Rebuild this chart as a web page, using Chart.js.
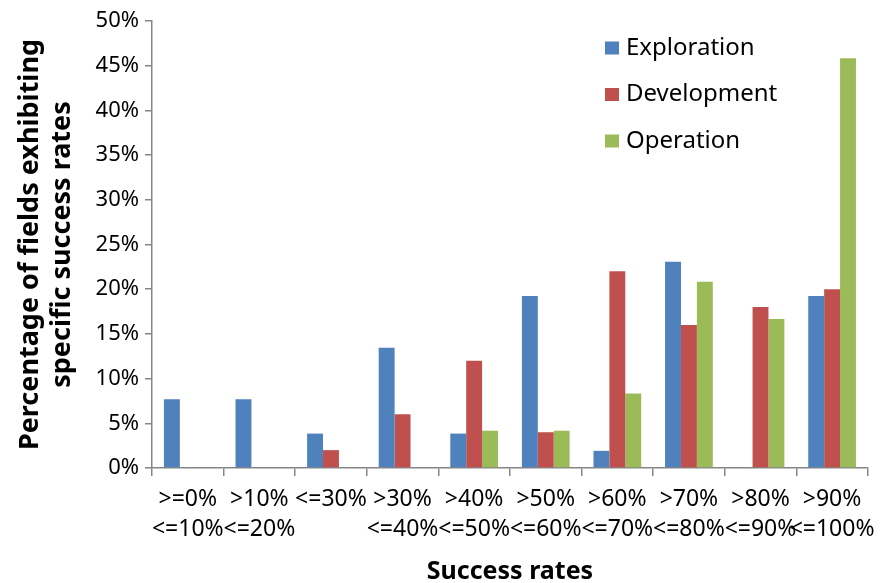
<!DOCTYPE html>
<html>
<head>
<meta charset="utf-8">
<script src="https://cdn.jsdelivr.net/npm/chart.js@4"></script>
<style>
  html, body { margin: 0; padding: 0; background: #fff; }
  #wrap { width: 884px; height: 583px; }
</style>
</head>
<body>
<div id="wrap"><canvas id="c" width="884" height="583"></canvas></div>
<script>
// Success-rate bands (two-line labels)
const categories = [
  ['>=0%', '<=10%'],
  ['>10%', '<=20%'],
  ['<=30%', ''],
  ['>30%', '<=40%'],
  ['>40%', '<=50%'],
  ['>50%', '<=60%'],
  ['>60%', '<=70%'],
  ['>70%', '<=80%'],
  ['>80%', '<=90%'],
  ['>90%', '<=100%']
];

// Percentage of fields in each band, per phase
const exploration = [7.69, 7.69, 3.85, 13.46, 3.85, 19.23, 1.92, 23.08, 0, 19.23];
const development = [0, 0, 2, 6, 12, 4, 22, 16, 18, 20];
const operation   = [0, 0, 0, 0, 4.17, 4.17, 8.33, 20.83, 16.67, 45.83];

const seriesNames = ['Exploration', 'Development', 'Operation'];
const seriesColors = ['#4F81BD', '#C0504D', '#9BBB59'];

const FONT = "'Noto Sans', 'DejaVu Sans', sans-serif";
const AXIS = '#868686';

// Legend drawn inside the plot area, stacked vertically at top right
const insideLegend = {
  id: 'insideLegend',
  afterDraw(chart) {
    const ctx = chart.ctx;
    ctx.save();
    ctx.font = '24px ' + FONT;
    ctx.textBaseline = 'middle';
    ctx.textAlign = 'left';
    const x0 = 605, y0 = 48, step = 46.5;
    chart.data.datasets.forEach((ds, i) => {
      const y = y0 + i * step;
      ctx.fillStyle = ds.backgroundColor;
      ctx.fillRect(x0, y - 6.5, 14, 13);
      ctx.fillStyle = '#000';
      ctx.fillText(ds.label, x0 + 21, y);
    });
    ctx.restore();
  }
};

new Chart(document.getElementById('c'), {
  type: 'bar',
  data: {
    labels: categories,
    datasets: [exploration, development, operation].map((vals, i) => ({
      label: seriesNames[i],
      data: vals,
      backgroundColor: seriesColors[i],
      borderWidth: 0,
      categoryPercentage: 3 / 4.5,
      barPercentage: 1.0
    }))
  },
  options: {
    responsive: false,
    animation: false,
    layout: { padding: { top: 21, right: 9, left: 0, bottom: 0 } },
    plugins: {
      legend: { display: false },
      tooltip: { enabled: false }
    },
    scales: {
      x: {
        grid: {
          display: true,
          drawOnChartArea: false,
          drawTicks: true,
          tickLength: 8,
          color: AXIS,
          lineWidth: 1.5,
          offset: true
        },
        border: { color: AXIS, width: 1.5 },
        ticks: {
          color: '#000',
          font: { family: FONT, size: 23, lineHeight: 1.3 },
          padding: 9,
          maxRotation: 0,
          minRotation: 0,
          autoSkip: false
        },
        title: {
          display: true,
          text: 'Success rates',
          color: '#000',
          font: { family: FONT, size: 25, weight: 'bold', lineHeight: 0.9 },
          padding: { top: 0, bottom: 0 }
        },
        afterFit(scale) { scale.height = 115; }
      },
      y: {
        min: 0,
        max: 50,
        ticks: {
          stepSize: 5,
          color: '#000',
          font: { family: FONT, size: 22 },
          padding: 6,
          callback: v => v + '%'
        },
        grid: {
          display: true,
          drawOnChartArea: false,
          drawTicks: true,
          tickLength: 7,
          color: AXIS,
          lineWidth: 1.5
        },
        border: { color: AXIS, width: 1.5 },
        title: {
          display: true,
          text: ['Percentage of fields exhibiting', 'specific success rates'],
          color: '#000',
          font: { family: FONT, size: 27, weight: 'bold', lineHeight: 1.2 },
          padding: { top: 14, bottom: 0 }
        },
        afterFit(scale) { scale.width = 152; }
      }
    }
  },
  plugins: [insideLegend]
});
</script>
</body>
</html>
